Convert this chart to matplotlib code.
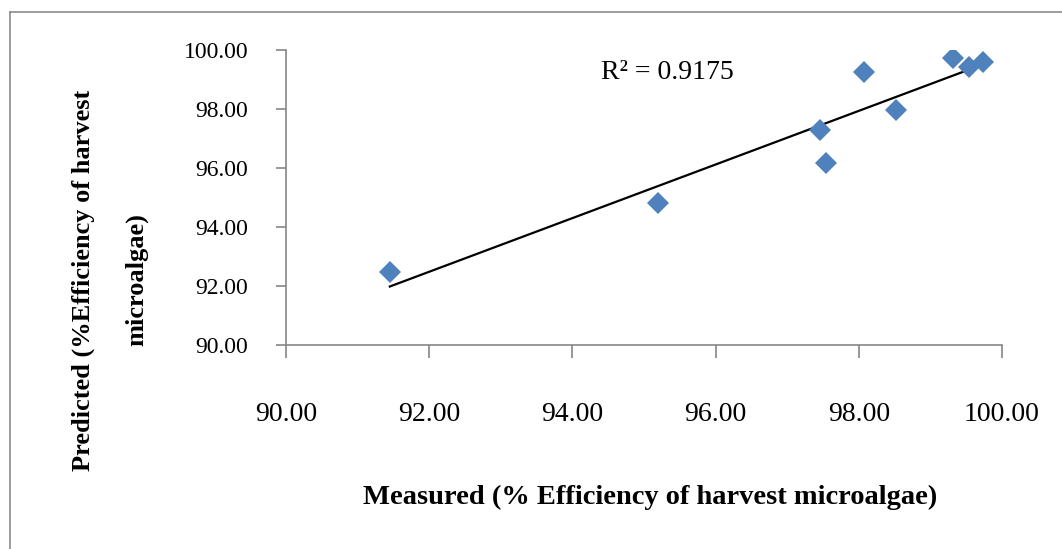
import numpy as np
import matplotlib
matplotlib.use('Agg')
import matplotlib.pyplot as plt
from matplotlib.lines import Line2D

plt.rcParams['font.family'] = ['Liberation Serif', 'DejaVu Serif']

# measured vs predicted (% efficiency of harvest microalgae)
measured = [91.45, 95.20, 97.46, 97.54, 98.07, 98.52, 99.32, 99.54, 99.73]
predicted = [92.48, 94.81, 97.28, 96.17, 99.27, 97.98, 99.73, 99.42, 99.59]
r2_label = 'R² = 0.9175'
ticks = [90, 92, 94, 96, 98, 100]

W, H = 1062, 549
fig = plt.figure(figsize=(W / 100, H / 100), dpi=100)
ax = fig.add_axes([286 / W, 1 - 345 / H, (1002 - 286) / W, (345 - 50) / H])

ax.plot(measured, predicted, 'D', color='#4F81BD', markersize=11, markeredgewidth=0, zorder=3)

# linear trendline
k, b = np.polyfit(measured, predicted, 1)
xs = np.array([min(measured), max(measured)])
ax.plot(xs, k * xs + b, color='black', lw=1.6, zorder=2)

ax.text(95.32, 99.25, r2_label, ha='center', va='center', fontsize=20)

ax.set_xlim(90, 100)
ax.set_ylim(90, 100)
ax.set_xticks(ticks)
ax.set_yticks(ticks)
ax.set_xticklabels(['{:.2f}'.format(t) for t in ticks], fontsize=20)
ax.set_yticklabels(['{:.2f}'.format(t) for t in ticks], fontsize=17)

for s in ['top', 'right']:
    ax.spines[s].set_visible(False)
for s in ['left', 'bottom']:
    ax.spines[s].set_color('#868686')
    ax.spines[s].set_linewidth(1.2)
ax.tick_params(axis='x', direction='out', length=9, width=1.2, color='#868686', pad=32)
ax.tick_params(axis='y', direction='out', length=7, width=1.2, color='#868686', pad=20)

fig.text(650 / W, 1 - 497 / H, 'Measured (% Efficiency of harvest microalgae)',
         ha='center', va='center', fontsize=20.5, fontweight='bold')
fig.text(110 / W, 1 - 280 / H, 'Predicted (%Efficiency of harvest\nmicroalgae)',
         ha='center', va='center', rotation=90, fontsize=19, fontweight='bold',
         multialignment='center', linespacing=2.7)

# chart area border (top and left edges visible)
fig.add_artist(Line2D([10 / W, 10 / W], [0, 1 - 12 / H], color='#8c8c8c', lw=1.2))
fig.add_artist(Line2D([10 / W, 1], [1 - 12 / H, 1 - 12 / H], color='#8c8c8c', lw=1.2))

fig.savefig('out.png', dpi=100, facecolor='white')
